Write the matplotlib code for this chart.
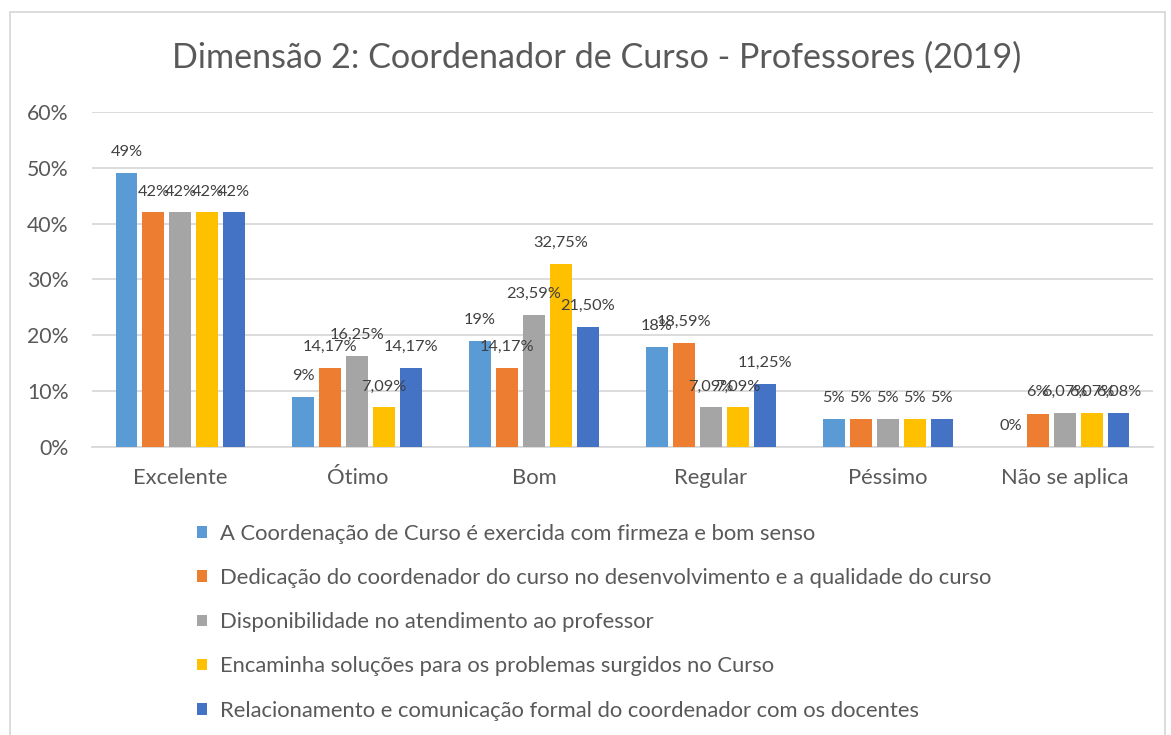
import matplotlib
matplotlib.use("Agg")
import matplotlib.pyplot as plt
from matplotlib.patches import Rectangle
import numpy as np

plt.rcParams['font.family'] = ['Lato', 'DejaVu Sans']

title = "Dimensão 2: Coordenador de Curso - Professores (2019)"
categories = ["Excelente", "Ótimo", "Bom", "Regular", "Péssimo", "Não se aplica"]
series_names = [
    "A Coordenação de Curso é exercida com firmeza e bom senso",
    "Dedicação do coordenador do curso no desenvolvimento e a qualidade do curso",
    "Disponibilidade no atendimento ao professor",
    "Encaminha soluções para os problemas surgidos no Curso",
    "Relacionamento e comunicação formal do coordenador com os docentes",
]
s1 = [49, 9, 19, 18, 5, 0]
s2 = [42, 14.17, 14.17, 18.59, 5, 6]
s3 = [42, 16.25, 23.59, 7.09, 5, 6.07]
s4 = [42, 7.09, 32.75, 7.09, 5, 6.07]
s5 = [42, 14.17, 21.50, 11.25, 5, 6.08]
labels1 = ["49%", "9%", "19%", "18%", "5%", "0%"]
labels2 = ["42%", "14,17%", "14,17%", "18,59%", "5%", "6%"]
labels3 = ["42%", "16,25%", "23,59%", "7,09%", "5%", "6,07%"]
labels4 = ["42%", "7,09%", "32,75%", "7,09%", "5%", "6,07%"]
labels5 = ["42%", "14,17%", "21,50%", "11,25%", "5%", "6,08%"]
yticks = [0, 10, 20, 30, 40, 50, 60]
ytick_labels = ["0%", "10%", "20%", "30%", "40%", "50%", "60%"]

colors = ["#5B9BD5", "#ED7D31", "#A5A5A5", "#FFC000", "#4472C4"]
values = [s1, s2, s3, s4, s5]
labels = [labels1, labels2, labels3, labels4, labels5]

W, H = 1171, 735
fig = plt.figure(figsize=(W / 100, H / 100), dpi=100)
fig.patch.set_facecolor("white")

# chart border
fig.patches.append(Rectangle((10 / W, -0.05), (1165 - 10) / W, 1 - 12 / H + 0.05,
                             transform=fig.transFigure, fill=False,
                             edgecolor="#D9D9D9", linewidth=1.3))

ax = fig.add_axes([92 / W, 1 - 447 / H, (1153 - 92) / W, (447 - 112) / H])
x = np.arange(len(categories))
pitch = 0.1525
width = 0.124
for i, (vals, labs, c, name) in enumerate(zip(values, labels, colors, series_names)):
    pos = x + (i - 2) * pitch
    bars = ax.bar(pos, vals, width, color=c, label=name, zorder=3)
    for b, lab in zip(bars, labs):
        ax.annotate(lab, (b.get_x() + b.get_width() / 2, b.get_height()),
                    xytext=(0, 21), textcoords="offset pixels",
                    ha="center", va="center", fontsize=11.8, color="#404040",
                    zorder=4)

ax.set_xlim(-0.5, len(categories) - 0.5)
ax.set_ylim(0, 60)
ax.set_yticks(yticks)
ax.set_yticklabels(ytick_labels, fontsize=15.3, color="#595959")
ax.set_xticks(x)
ax.set_xticklabels(categories, fontsize=15.8, color="#595959")
ax.tick_params(axis="both", length=0)
ax.tick_params(axis="y", pad=17)
ax.tick_params(axis="x", pad=15)
ax.grid(axis="y", color="#D9D9D9", linewidth=1.3, zorder=0)
for sp in ["top", "right", "left"]:
    ax.spines[sp].set_visible(False)
ax.spines["bottom"].set_color("#D9D9D9")
ax.spines["bottom"].set_linewidth(1.3)

fig.text(597 / W, 1 - 58 / H, title, ha="center", va="center",
         fontsize=24.6, color="#595959")

leg = fig.legend(loc="upper left", bbox_to_anchor=(197 / W, 1 - 524 / H),
                 ncol=1, frameon=False, fontsize=15.8, handlelength=0.45,
                 handleheight=0.45, handletextpad=0.6, labelspacing=1.1,
                 borderaxespad=0, borderpad=0)
for t in leg.get_texts():
    t.set_color("#595959")

fig.savefig("out.png", dpi=100, facecolor="white")
